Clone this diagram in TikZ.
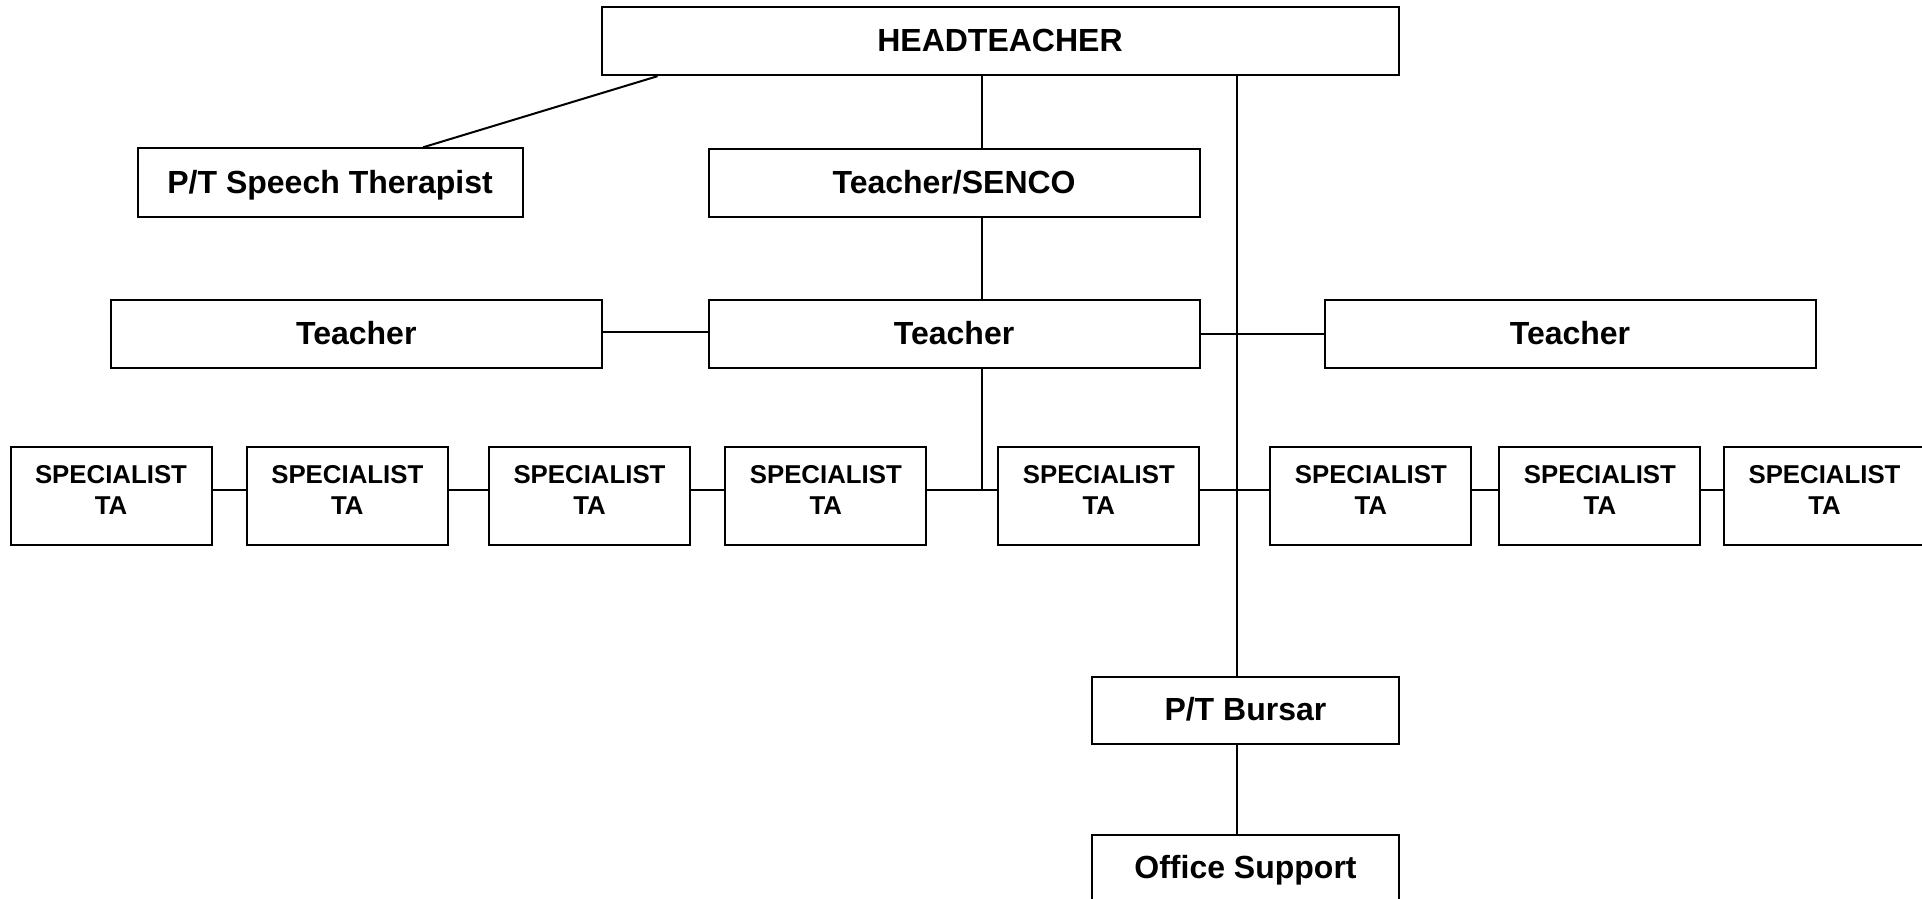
\documentclass[tikz,border=0pt]{standalone}
\usepackage{fontspec}
\setmainfont{Liberation Sans}
\usetikzlibrary{calc}
\begin{document}
\begin{tikzpicture}[x=0.5pt,y=-0.5pt,
  post/.style={draw=black, line width=1pt, rectangle, inner sep=0pt,
    text height=11.5pt, text depth=1pt,
    font=\fontsize{16}{19}\selectfont\bfseries},
  wide/.style={post, minimum width=245.5pt, minimum height=34pt},
  small/.style={post, minimum width=153.6pt, minimum height=33.7pt},
  tabox/.style={draw=black, line width=1pt, rectangle, inner sep=0pt,
    minimum width=100.5pt, minimum height=49pt,
    label={[talabel, yshift=3.2pt]center:SPECIALIST\\TA}},
  talabel/.style={font=\fontsize{12.9}{15.5}\selectfont\bfseries, align=center, inner sep=0pt},
  link/.style={draw=black, line width=1pt}]

% page area
\path[use as bounding box, fill=white] (0,0) rectangle (1922,899);

% management
\node[post, minimum width=398.5pt, minimum height=34pt] (HT) at (1000,41.2) {HEADTEACHER};
\node[post, minimum width=192.6pt, minimum height=34.2pt] (ST) at (330.1,182.5) {P/T Speech Therapist};
\node[wide] (SENCO) at (954.1,182.8) {Teacher/SENCO};

% teachers
\node[wide] (TL) at (356.3,334.3) {Teacher};
\node[wide] (TC) at (954.1,334.3) {Teacher};
\node[wide] (TR) at (1570,334.3) {Teacher};

% specialist teaching assistants
\node[tabox] (TA1) at (111,496.4) {};
\node[tabox] (TA2) at (347.3,496.4) {};
\node[tabox] (TA3) at (589.5,496.4) {};
\node[tabox] (TA4) at (825.8,496.4) {};
\node[tabox] (TA5) at (1098.8,496.4) {};
\node[tabox] (TA6) at (1370.8,496.4) {};
\node[tabox] (TA7) at (1599.9,496.4) {};
\node[tabox] (TA8) at (1824.5,496.4) {};

% office
\node[small] (BU) at (1245.4,710.4) {P/T Bursar};
\node[small] (OS) at (1245.5,868.4) {Office Support};

% guide positions for the connector runs
\coordinate (cx) at (981.7,0);
\coordinate (rx) at (1236.8,0);
\coordinate (rowy) at (0,489.5);
\coordinate (teachy) at (0,331.5);

% connectors
\draw[link] ($(HT.south west)+(57,0)$) -- ($(ST.north)+(93,0)$);
\draw[link] (HT.south -| cx) -- (SENCO.north -| cx);
\draw[link] (SENCO.south -| cx) -- (TC.north -| cx);
\draw[link] (TL.east |- teachy) -- (TC.west |- teachy);
\draw[link] (TC.east) -- (TR.west);
\draw[link] (TC.south -| cx) -- (cx |- rowy);
\draw[link] (HT.south -| rx) -- (BU.north -| rx);
\draw[link] (BU.south -| rx) -- (OS.north -| rx);

\draw[link] (TA1.east |- rowy) -- (TA2.west |- rowy);
\draw[link] (TA2.east |- rowy) -- (TA3.west |- rowy);
\draw[link] (TA3.east |- rowy) -- (TA4.west |- rowy);
\draw[link] (TA4.east |- rowy) -- (TA5.west |- rowy);
\draw[link] (TA5.east |- rowy) -- (TA6.west |- rowy);
\draw[link] (TA6.east |- rowy) -- (TA7.west |- rowy);
\draw[link] (TA7.east |- rowy) -- (TA8.west |- rowy);
\end{tikzpicture}
\end{document}
